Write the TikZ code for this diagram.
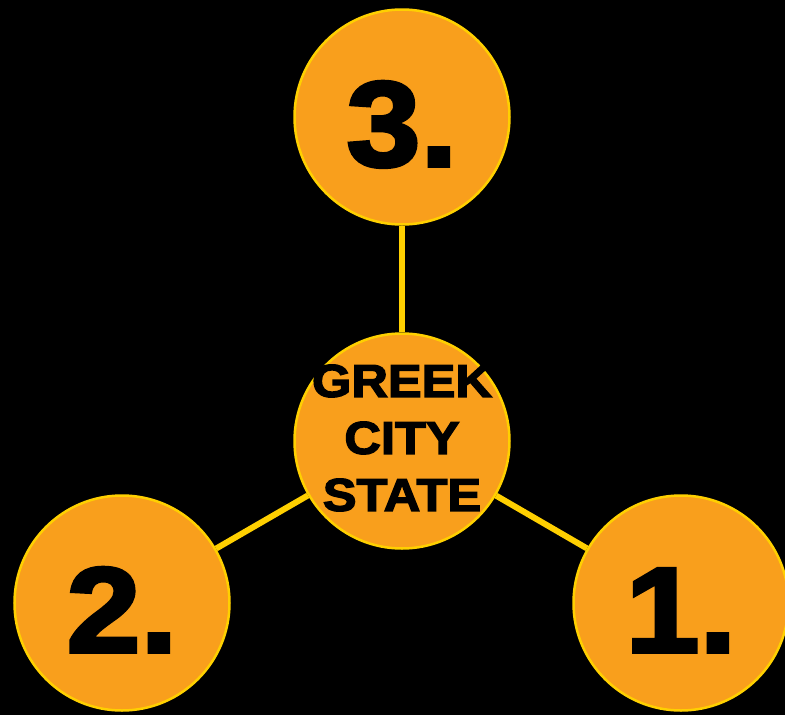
\documentclass[tikz,border=0pt]{standalone}
\usepackage{fontspec}
\newfontfamily\heavyfont[FakeStretch=1.1,FakeBold=3]{Liberation Sans Bold}
\definecolor{cityorange}{RGB}{249,159,28}
\definecolor{cityyellow}{RGB}{255,208,0}
\begin{document}
\begin{tikzpicture}[x=1pt,y=-1pt, every text node part/.style={align=center}]
        \tikzset{
          citycircle/.style={circle, draw=cityyellow, fill=cityorange, line width=2.5pt,
            minimum size=215pt, inner sep=0pt, text=black},
          bignum/.style={font=\heavyfont\fontsize{121}{121}\selectfont, text height=98pt, text depth=0pt},
          citytext/.style={font=\heavyfont\fontsize{46}{57}\selectfont, text=black, inner sep=0pt},
          link/.style={draw=cityyellow, line width=6pt},
        }
        \fill[black] (0,0) rectangle (785,715);
        \useasboundingbox (0,0) rectangle (785,715);
        % 
        \node [citycircle] (city) at (402,441) {};
        \node [citytext] (citylabel) at ([yshift=3pt]city.center) {GREEK\\CITY\\STATE};
        \node [citycircle, bignum] (three) at (402,117) {3.};
        \node [citycircle, bignum] (two) at (122,603) {2.};
        \node [citycircle, bignum] (one) at (681,603) {1.};
        % 
        \draw [link] (city) -- (three);
        \draw [link] (city) -- (two);
        \draw [link] (city) -- (one);
    \end{tikzpicture}
\end{document}
